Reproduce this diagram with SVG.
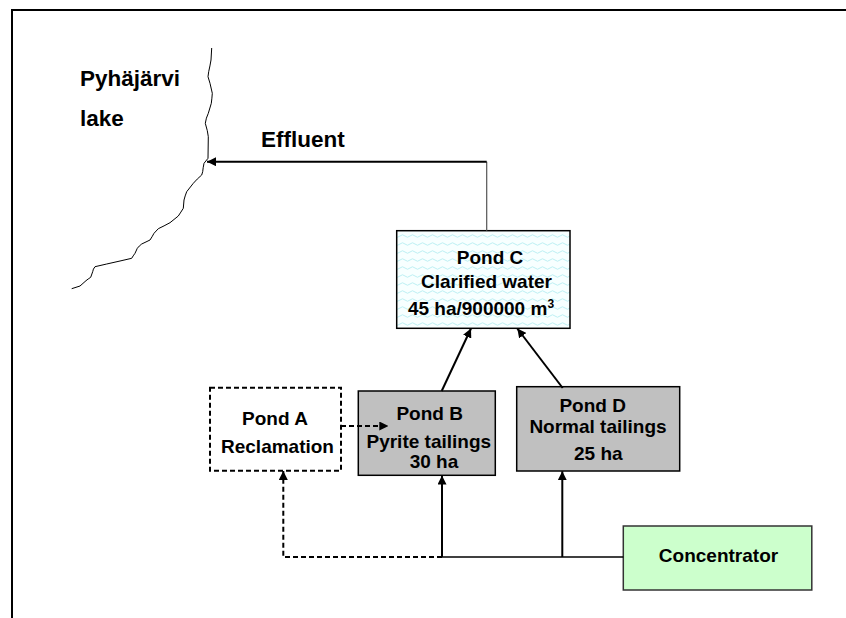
<svg xmlns="http://www.w3.org/2000/svg" width="846" height="618" viewBox="0 0 846 618">
<style>
.t{font-family:"Liberation Sans",Arial,sans-serif;font-weight:bold;fill:#000;text-anchor:middle}
.s{font-size:19px}
.b{font-size:22.5px;text-anchor:start}
.box{stroke:#000;stroke-width:1.5}
.ln{stroke:#000;stroke-width:2;fill:none}
.dash{stroke:#000;stroke-width:2;fill:none;stroke-dasharray:5,3}
</style>
<defs>
<pattern id="wave" width="10" height="8" patternUnits="userSpaceOnUse">
<rect width="10" height="8" fill="#f7ffff"/>
<path d="M0,4 Q2.5,1.5 5,4 T10,4" fill="none" stroke="#bdeff3" stroke-width="1"/>
</pattern>
<marker id="ah" viewBox="0 0 10 10" refX="10" refY="5" markerWidth="9" markerHeight="9" markerUnits="userSpaceOnUse" orient="auto">
<path d="M0,0 L10,5 L0,10 z" fill="#000"/>
</marker>
</defs>
<rect width="846" height="618" fill="#fff"/>
<g id="frame"><path d="M12,618 L12,10 L846,10" fill="none" stroke="#000" stroke-width="2"/></g>
<g id="lake">
<path d="M211.7,48 L211,60 Q210,66 208.7,71.7 L208,76.7 Q209,80 210,83.3 L212.3,93.3 Q212,98 211.3,103.3 L208.3,113.3 Q206,118 205.3,123.3 L207.3,130.7 L208.3,136.7 L208,158.3 L204,163.3 Q203,168 202.7,171.7 L201.7,175 Q197,179 193.3,183.3 L186.7,191.7 Q185,196 184,200 L183.3,208.3 Q181,212 178.3,216 L170,222.7 Q164,226 158.3,228.7 L154,233.3 Q152,237 150,240 L141.7,244 Q139,246 137.3,248.3 L135,253.3 Q133,256 131.7,258.3 L120,261 L106.7,264 L95,266.7 Q93,269 92.7,271.7 L90.7,277.3 Q88,279 86,280.7 L80,286 L71.7,288.7" fill="none" stroke="#000" stroke-width="1"/>
<text class="t b" x="80" y="86">Pyhäjärvi</text>
<text class="t b" x="80" y="126">lake</text>
</g>
<g id="pondC">
<rect class="box" x="396.7" y="230.7" width="173.3" height="97.6" fill="url(#wave)"/>
<text class="t s" x="490" y="264.3">Pond C</text>
<text class="t s" x="486.5" y="288.3">Clarified water</text>
<text class="t s" x="481" y="315">45 ha/900000 m<tspan font-size="12" dy="-7">3</tspan></text>
</g>
<g id="pondA">
<rect x="210" y="387.7" width="131" height="83" fill="#fff" stroke="#000" stroke-width="2" stroke-dasharray="5,3"/>
<text class="t s" x="275" y="425">Pond A</text>
<text class="t s" x="277.5" y="453.3">Reclamation</text>
</g>
<g id="pondB">
<rect class="box" x="358.3" y="391" width="137" height="84.3" fill="#c0c0c0"/>
<text class="t s" x="429.7" y="420">Pond B</text>
<text class="t s" x="428.8" y="448.3">Pyrite tailings</text>
<text class="t s" x="434" y="467.7">30 ha</text>
</g>
<g id="pondD">
<rect class="box" x="516.7" y="386.7" width="163" height="84.3" fill="#c0c0c0"/>
<text class="t s" x="592.7" y="411.7">Pond D</text>
<text class="t s" x="598" y="433.3">Normal tailings</text>
<text class="t s" x="598.3" y="460">25 ha</text>
</g>
<g id="concentrator">
<rect x="623.3" y="526" width="188.5" height="64" fill="#ccffcc" stroke="#333" stroke-width="1.5"/>
<text class="t s" x="718.5" y="562">Concentrator</text>
</g>
<g id="connectors">
<path d="M486.7,230.7 L486.7,161.7" stroke="#555" stroke-width="1.2" fill="none"/>
<path class="ln" d="M486.7,161.7 L207,161.7" marker-end="url(#ah)"/>
<text class="t b" x="261" y="146.7">Effluent</text>
<path class="ln" d="M441.7,391 L471,328.5" marker-end="url(#ah)"/>
<path class="ln" d="M562.7,388 L517.3,328.5" marker-end="url(#ah)"/>
<path d="M442,557 L623.3,557" stroke="#000" stroke-width="1.5" fill="none"/>
<path class="ln" d="M442,557 L442,475.5" marker-end="url(#ah)"/>
<path class="ln" d="M562.3,557 L562.3,471.2" marker-end="url(#ah)"/>
<path class="dash" d="M442,557 L283.3,557 L283.3,471" marker-end="url(#ah)"/>
<path class="dash" d="M341,426 L388.3,426" marker-end="url(#ah)"/>
</g>
</svg>
